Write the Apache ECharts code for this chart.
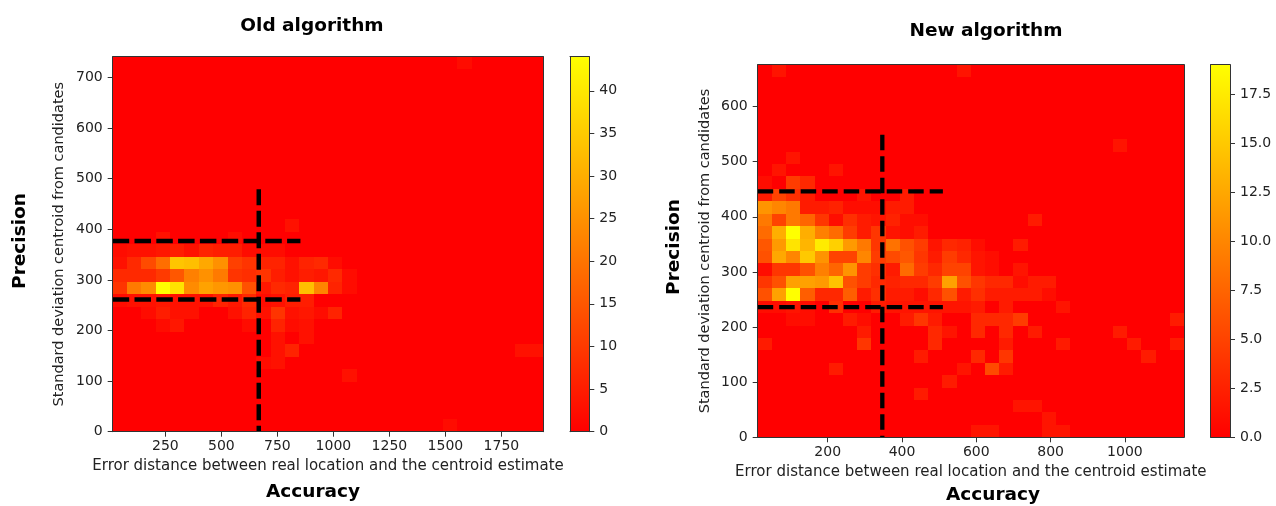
<!DOCTYPE html>
<html>
<head>
<meta charset="utf-8">
<script src="https://cdn.jsdelivr.net/npm/echarts@6/dist/echarts.min.js"></script>
<style>
html,body{margin:0;padding:0;background:#fff;}
#chart{width:1276px;height:506px;}
</style>
</head>
<body>
<div id="chart"></div>
<script>
// ---------------- data ----------------
const BINS = 30;
// histogram extents (bin edges span these ranges)
const oldXRange = [15, 1937];
const oldYRange = [0, 741];
const oldMax = 44;
const newXRange = [11.6, 1159];
const newYRange = [0, 676];
const newMax = 19;

// tick labels
const oldXTicks = [250, 500, 750, 1000, 1250, 1500, 1750];
const oldYTicks = [0, 100, 200, 300, 400, 500, 600, 700];
const oldCbTicks = [0, 5, 10, 15, 20, 25, 30, 35, 40];
const newXTicks = [200, 400, 600, 800, 1000];
const newYTicks = [0, 100, 200, 300, 400, 500, 600];
const newCbTicks = [0, 2.5, 5, 7.5, 10, 12.5, 15, 17.5];

// non-zero histogram cells: [column, row, count]
const oldCells = [
  [24,29,2],
  [12,16,3],
  [3,15,3],[8,15,2],
  [0,14,2],[1,14,3],[2,14,3],[3,14,4],[4,14,5],[5,14,3],[6,14,6],[7,14,5],[8,14,5],[9,14,2],[10,14,2],[11,14,2],
  [0,13,3],[1,13,7],[2,13,13],[3,13,19],[4,13,34],[5,13,33],[6,13,29],[7,13,25],[8,13,11],[9,13,9],[10,13,6],[11,13,6],[12,13,3],[13,13,6],[14,13,7],[15,13,2],
  [0,12,7],[1,12,7],[2,12,7],[3,12,10],[4,12,15],[5,12,22],[6,12,25],[7,12,21],[8,12,9],[9,12,8],[10,12,9],[11,12,5],[12,12,3],[13,12,5],[14,12,4],[15,12,7],[16,12,2],
  [0,11,9],[1,11,21],[2,11,24],[3,11,44],[4,11,39],[5,11,24],[6,11,28],[7,11,26],[8,11,25],[9,11,14],[10,11,4],[11,11,7],[12,11,6],[13,11,33],[14,11,23],[15,11,6],[16,11,2],
  [0,10,2],[1,10,3],[2,10,3],[3,10,4],[4,10,3],[5,10,3],[6,10,3],[7,10,6],[8,10,4],[9,10,7],[10,10,2],[11,10,3],[12,10,5],[13,10,5],
  [2,9,2],[3,9,5],[4,9,3],[5,9,3],[8,9,3],[9,9,6],[10,9,3],[11,9,9],[12,9,3],[13,9,4],[14,9,2],[15,9,6],
  [3,8,2],[4,8,4],[9,8,2],[11,8,6],[12,8,2],[13,8,3],
  [11,7,3],[13,7,3],
  [11,6,3],[12,6,6],[28,6,3],[29,6,3],
  [10,5,2],[11,5,3],
  [16,4,3],
  [23,0,2]
];
const newCells = [
  [1,29,1.5],[14,29,1.5],
  [25,23,1.5],
  [2,22,1.5],
  [1,21,1.5],[5,21,1.5],
  [0,20,1],[2,20,4.5],[3,20,3],
  [0,19,2],[1,19,5],[2,19,3.5],[3,19,2],[7,19,1.5],[10,19,2],
  [0,18,11],[1,18,10],[2,18,9],[3,18,2],[4,18,2],[5,18,2.5],[6,18,1],[7,18,1],[8,18,1],[9,18,2],[10,18,2],
  [0,17,9],[1,17,5],[2,17,9],[3,17,7.5],[4,17,4],[5,17,1],[6,17,3.5],[7,17,2],[8,17,1.5],[9,17,2.5],[10,17,1],[11,17,1],[19,17,2],
  [0,16,8],[1,16,13],[2,16,19],[3,16,13],[4,16,9.5],[5,16,8],[6,16,4.5],[7,16,2],[8,16,4],[9,16,1.5],[10,16,1],[11,16,2],
  [0,15,6.5],[1,15,11.5],[2,15,17],[3,15,13.5],[4,15,17.5],[5,15,15.5],[6,15,11.5],[7,15,9],[8,15,4],[9,15,8.5],[10,15,6],[11,15,4.5],[12,15,1.5],[13,15,3],[14,15,2.5],[15,15,1],[18,15,2],
  [0,14,6],[1,14,12.5],[2,14,10],[3,14,15],[4,14,11],[5,14,5],[6,14,5],[7,14,10],[8,14,4.5],[9,14,5.5],[10,14,6.5],[11,14,4],[12,14,2],[13,14,4.5],[14,14,3],[15,14,1.5],[16,14,1],
  [0,13,1],[1,13,4],[2,13,4],[3,13,6],[4,13,9.5],[5,13,7.5],[6,13,11],[7,13,4.5],[8,13,3.5],[9,13,2],[10,13,8],[11,13,4.5],[12,13,3],[13,13,5],[14,13,5],[15,13,1.5],[16,13,1],[18,13,1.5],
  [0,12,4],[1,12,6],[2,12,12],[3,12,12],[4,12,11.5],[5,12,14.5],[6,12,6],[7,12,4.5],[8,12,3],[9,12,2.5],[10,12,3],[11,12,3],[12,12,4.5],[13,12,12],[14,12,6],[15,12,4],[16,12,3],[17,12,3],[18,12,1],[19,12,2],[20,12,2],
  [0,11,6],[1,11,12],[2,11,19],[3,11,7],[4,11,3],[5,11,3],[6,11,7],[7,11,2],[8,11,3.5],[9,11,2],[10,11,2],[11,11,1],[12,11,3],[13,11,6],[14,11,2],[15,11,3.5],[16,11,2],[17,11,2],[18,11,2],[19,11,2],[20,11,1],
  [0,10,1],[1,10,1],[2,10,1.5],[3,10,1],[5,10,3.5],[8,10,2],[9,10,1.5],[10,10,1.5],[11,10,1.5],[12,10,1.5],[13,10,1.5],[14,10,1.5],[15,10,2],[17,10,2],[21,10,1.5],
  [2,9,1],[3,9,1],[6,9,2],[7,9,1],[10,9,2],[11,9,4],[12,9,2],[15,9,3],[16,9,3],[17,9,3],[18,9,4.5],[29,9,2],
  [7,8,2],[12,8,3],[13,8,1.5],[15,8,3],[17,8,3],[19,8,2],[25,8,2],
  [0,7,2],[7,7,4],[12,7,3],[17,7,2],[21,7,2],[26,7,2],[29,7,2],
  [11,6,2],[15,6,3],[17,6,4],[27,6,2],
  [5,5,2],[14,5,1.5],[16,5,5.5],[17,5,2],
  [13,4,2],
  [11,3,2],
  [18,2,1.5],[19,2,1.5],
  [20,1,1.5],
  [15,0,1.5],[16,0,1.5],[20,0,1.5],[21,0,1.5]
];

// dashed reference lines
const oldVLine = [[667, 479], [667, 0]];
const oldHLineTop = [[15, 377], [853, 377]];
const oldHLineBottom = [[15, 261], [853, 261]];
const newVLine = [[347, 549], [347, 0]];
const newHLineTop = [[11.6, 446], [510, 446]];
const newHLineBottom = [[11.6, 236], [510, 236]];

// ---------------- build ----------------
function buildCells(xr, yr, sparse) {
  const grid = [];
  for (let r = 0; r < BINS; r++) { grid.push(new Array(BINS).fill(0)); }
  sparse.forEach(function (c) { grid[c[1]][c[0]] = c[2]; });
  const out = [];
  const dx = (xr[1] - xr[0]) / BINS, dy = (yr[1] - yr[0]) / BINS;
  for (let r = 0; r < BINS; r++) {
    for (let c = 0; c < BINS; c++) {
      out.push([xr[0] + c * dx, xr[0] + (c + 1) * dx, yr[0] + r * dy, yr[0] + (r + 1) * dy, grid[r][c]]);
    }
  }
  return out;
}

const FONT = 'DejaVu Sans';
const AX = '#333';
const TXT = '#222';

function lineAxis(gridIndex, pos, min, max) {
  return {
    gridIndex: gridIndex, type: 'value', position: pos, min: min, max: max, z: 6,
    axisLine: {show: true, onZero: false, lineStyle: {color: AX, width: 1}},
    axisTick: {show: false}, axisLabel: {show: false}, splitLine: {show: false}
  };
}
function tickAxis(gridIndex, pos, min, max, ticks, name, nameGap, nameSize, fmt) {
  return {
    gridIndex: gridIndex, type: 'value', position: pos, min: min, max: max, z: 6,
    axisLine: {show: true, onZero: false, lineStyle: {color: AX, width: 1}},
    axisTick: {show: true, length: 5, lineStyle: {color: AX, width: 1}, customValues: ticks},
    axisLabel: {show: true, customValues: ticks, margin: (pos === 'bottom' ? 8 : 10), fontSize: 14, color: TXT, fontFamily: FONT,
      formatter: fmt || function (v) { return String(v); }},
    splitLine: {show: false},
    name: name || '', nameLocation: 'middle', nameGap: nameGap || 0,
    nameTextStyle: {fontSize: nameSize || 14, color: TXT, fontFamily: FONT}
  };
}

const XNAME = 'Error distance between real location and the centroid estimate';
const YNAME = 'Standard deviation centroid from candidates';

const grids = [
  {left: 112.7, top: 56.7, width: 430.6, height: 375},
  {left: 570, top: 56.7, width: 19.3, height: 375},
  {left: 757.7, top: 64.7, width: 426.3, height: 372.6},
  {left: 1210.7, top: 64.7, width: 19.3, height: 372.6}
];

const xAxes = [
  tickAxis(0, 'bottom', oldXRange[0], oldXRange[1], oldXTicks, XNAME, 26, 15),
  lineAxis(0, 'top', oldXRange[0], oldXRange[1]),
  lineAxis(1, 'bottom', 0, 1),
  lineAxis(1, 'top', 0, 1),
  tickAxis(2, 'bottom', newXRange[0], newXRange[1], newXTicks, XNAME, 26, 15),
  lineAxis(2, 'top', newXRange[0], newXRange[1]),
  lineAxis(3, 'bottom', 0, 1),
  lineAxis(3, 'top', 0, 1)
];
const yAxes = [
  tickAxis(0, 'left', oldYRange[0], oldYRange[1], oldYTicks, YNAME, 46, 14.5),
  lineAxis(0, 'right', oldYRange[0], oldYRange[1]),
  lineAxis(1, 'left', 0, oldMax),
  tickAxis(1, 'right', 0, oldMax, oldCbTicks),
  tickAxis(2, 'left', newYRange[0], newYRange[1], newYTicks, YNAME, 45, 14.5),
  lineAxis(2, 'right', newYRange[0], newYRange[1]),
  lineAxis(3, 'left', 0, newMax),
  tickAxis(3, 'right', 0, newMax, newCbTicks, '', 0, 14, function (v) { return v.toFixed(1); })
];

function heatSeries(axisIdx, data) {
  return {
    type: 'custom', xAxisIndex: axisIdx, yAxisIndex: axisIdx, data: data, z: 2, clip: true, silent: true,
    encode: {x: [0, 1], y: [2, 3]},
    renderItem: function (params, api) {
      const p0 = api.coord([api.value(0), api.value(2)]);
      const p1 = api.coord([api.value(1), api.value(3)]);
      const x0 = Math.round(p0[0]), x1 = Math.round(p1[0]);
      const yb = Math.round(p0[1]), yt = Math.round(p1[1]);
      return {type: 'rect', shape: {x: x0, y: yt, width: x1 - x0, height: yb - yt},
        style: {fill: api.visual('color')}};
    }
  };
}
function barSeries(axisIdx, max) {
  return {
    type: 'custom', xAxisIndex: axisIdx, yAxisIndex: axisIdx, data: [[0, 1, 0, max]], z: 2, silent: true,
    renderItem: function (params, api) {
      const p0 = api.coord([api.value(0), api.value(2)]);
      const p1 = api.coord([api.value(1), api.value(3)]);
      return {type: 'rect', shape: {x: p0[0], y: p1[1], width: p1[0] - p0[0], height: p0[1] - p1[1]},
        style: {fill: new echarts.graphic.LinearGradient(0, 1, 0, 0, [{offset: 0, color: '#ff0000'}, {offset: 1, color: '#ffff00'}])}};
    }
  };
}
function dashSeries(axisIdx, data, w, dash) {
  return {
    type: 'line', xAxisIndex: axisIdx, yAxisIndex: axisIdx, data: data, z: 4, silent: true,
    symbol: 'none', showSymbol: false,
    lineStyle: {color: '#000', width: w, type: dash, cap: 'butt'}
  };
}

const series = [
  heatSeries(0, buildCells(oldXRange, oldYRange, oldCells)),
  barSeries(2, oldMax),
  dashSeries(0, oldVLine, 4.5, [16, 5.5]),
  dashSeries(0, oldHLineTop, 4.5, [16.5, 5.3]),
  dashSeries(0, oldHLineBottom, 4.5, [16.5, 5.3]),
  heatSeries(4, buildCells(newXRange, newYRange, newCells)),
  barSeries(6, newMax),
  dashSeries(4, newVLine, 4.3, [15.5, 6]),
  dashSeries(4, newHLineTop, 4.3, [15.5, 6]),
  dashSeries(4, newHLineBottom, 4.3, [15.5, 6])
];

function boldText(text, x, y, rot) {
  return {type: 'text', x: x, y: y, rotation: rot || 0, silent: true,
    style: {text: text, fill: '#000', font: 'bold 18.5px "DejaVu Sans"', textAlign: 'center', textVerticalAlign: 'middle'}};
}

const chart = echarts.init(document.getElementById('chart'), null, {renderer: 'canvas'});
chart.setOption({
  animation: false,
  backgroundColor: '#fff',
  grid: grids,
  xAxis: xAxes,
  yAxis: yAxes,
  visualMap: [
    {type: 'continuous', show: false, seriesIndex: 0, dimension: 4, min: 0, max: oldMax, inRange: {color: ['#ff0000', '#ffff00']}},
    {type: 'continuous', show: false, seriesIndex: 5, dimension: 4, min: 0, max: newMax, inRange: {color: ['#ff0000', '#ffff00']}}
  ],
  graphic: [
    boldText('Old algorithm', 312, 26),
    boldText('New algorithm', 986, 31),
    boldText('Precision', 20, 241, Math.PI / 2),
    boldText('Precision', 674, 247, Math.PI / 2),
    boldText('Accuracy', 313, 492),
    boldText('Accuracy', 993, 495)
  ],
  series: series
});
</script>
</body>
</html>
